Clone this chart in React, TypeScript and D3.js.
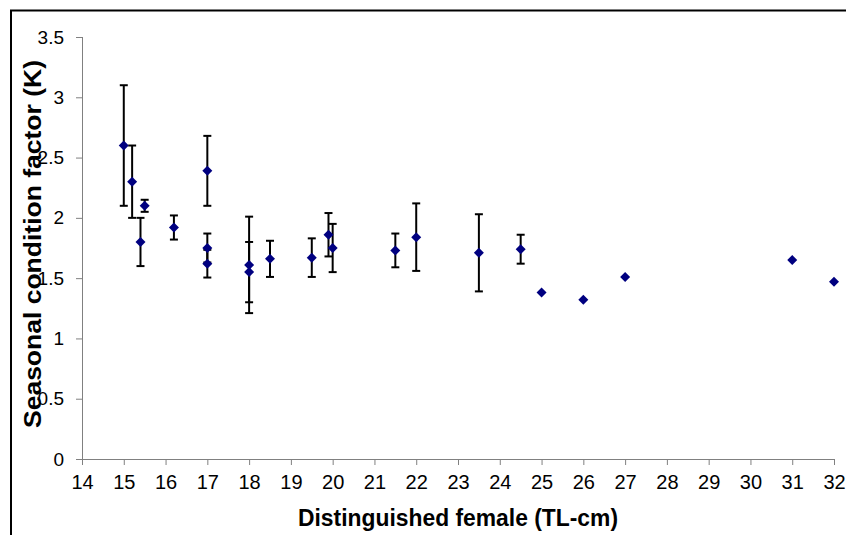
import React, { useEffect, useRef } from 'react';
import * as d3 from 'd3';

// total length (cm) of each measured group
const lengths = [15, 15.2, 15.4, 15.5, 16.2, 17, 17, 17, 18, 18, 18.5, 19.5, 19.9, 20, 21.5, 22, 23.5, 24.5, 25, 26, 27, 31, 32];
// mean condition factor K
const kValues = [2.6, 2.3, 1.8, 2.1, 1.92, 2.39, 1.75, 1.62, 1.61, 1.55, 1.66, 1.67, 1.86, 1.75, 1.73, 1.84, 1.71, 1.74, 1.38, 1.32, 1.51, 1.65, 1.47];
// +/- error (0 = single fish, no bar)
const kErrors = [0.5, 0.3, 0.2, 0.05, 0.1, 0.29, 0.12, 0.115, 0.4, 0.25, 0.15, 0.16, 0.18, 0.2, 0.14, 0.28, 0.32, 0.12, 0, 0, 0, 0, 0];

const xTicks = d3.range(14, 33, 1);
const yTicks = [0, 0.5, 1, 1.5, 2, 2.5, 3, 3.5];

export default function App() {
  const chartRef = useRef<SVGSVGElement>(null);

  useEffect(() => {
    const svg = d3.select(chartRef.current);
    svg.selectAll('*').remove();

    const containerWidth = 846;
    const containerHeight = 535;
    const margin = { top: 37, right: 12, bottom: 76, left: 82 };
    const axisColor = '#808080';
    const font = 'Arial, "Liberation Sans", Helvetica, sans-serif';

    const data = lengths.map((len, i) => ({ len, k: kValues[i], err: kErrors[i] }));

    const x = d3.scaleLinear()
      .domain([14, 32])
      .range([margin.left, containerWidth - margin.right]);

    const y = d3.scaleLinear()
      .domain([0, 3.5])
      .range([containerHeight - margin.bottom, margin.top]);

    svg.append('rect')
      .attr('width', containerWidth)
      .attr('height', containerHeight)
      .attr('fill', '#fff');

    // outer frame (top + left only, as in the source)
    svg.append('path')
      .attr('d', `M11,${containerHeight} L11,10.5 L${containerWidth},10.5`)
      .attr('fill', 'none')
      .attr('stroke', '#000')
      .attr('stroke-width', 2);

    // y axis
    const yAxis = svg.append('g')
      .attr('transform', `translate(${margin.left},0)`)
      .call(d3.axisLeft(y).tickValues(yTicks).tickSize(6).tickPadding(12)
        .tickFormat(d => String(d)));
    yAxis.select('.domain').attr('stroke', axisColor).attr('d', `M0.5,${y(3.5)}V${y(0)}`);
    yAxis.selectAll('.tick line').attr('stroke', axisColor);
    yAxis.selectAll('.tick text')
      .attr('fill', '#000')
      .attr('font-family', font)
      .attr('font-size', 19);

    // x axis
    const xAxis = svg.append('g')
      .attr('transform', `translate(0,${y(0)})`)
      .call(d3.axisBottom(x).tickValues(xTicks).tickSize(6).tickPadding(10)
        .tickFormat(d => String(d)));
    xAxis.select('.domain').attr('stroke', axisColor).attr('d', `M${x(14)},0.5H${x(32)}`);
    xAxis.selectAll('.tick line').attr('stroke', axisColor);
    xAxis.selectAll('.tick text')
      .attr('fill', '#000')
      .attr('font-family', font)
      .attr('font-size', 20);

    // error bars
    const withErr = data.filter(d => d.err > 0);
    const bars = svg.append('g').attr('stroke', '#000').attr('stroke-width', 2);
    bars.selectAll('line.v')
      .data(withErr)
      .join('line')
      .attr('class', 'v')
      .attr('x1', d => x(d.len))
      .attr('x2', d => x(d.len))
      .attr('y1', d => y(d.k - d.err))
      .attr('y2', d => y(d.k + d.err));
    bars.selectAll('line.cap-top')
      .data(withErr)
      .join('line')
      .attr('class', 'cap-top')
      .attr('x1', d => x(d.len) - 4)
      .attr('x2', d => x(d.len) + 4)
      .attr('y1', d => y(d.k + d.err))
      .attr('y2', d => y(d.k + d.err));
    bars.selectAll('line.cap-bot')
      .data(withErr)
      .join('line')
      .attr('class', 'cap-bot')
      .attr('x1', d => x(d.len) - 4)
      .attr('x2', d => x(d.len) + 4)
      .attr('y1', d => y(d.k - d.err))
      .attr('y2', d => y(d.k - d.err));

    // diamonds
    const diamond = d3.symbol().type(d3.symbolSquare).size(50);
    svg.append('g')
      .selectAll('path')
      .data(data)
      .join('path')
      .attr('d', diamond)
      .attr('transform', d => `translate(${x(d.len)},${y(d.k)}) rotate(45)`)
      .attr('fill', '#000080');

    // axis titles
    svg.append('text')
      .attr('x', (x(14) + x(32)) / 2)
      .attr('y', 526)
      .attr('text-anchor', 'middle')
      .attr('font-family', font)
      .attr('font-weight', 'bold')
      .attr('font-size', 23)
      .attr('textLength', 320)
      .attr('lengthAdjust', 'spacingAndGlyphs')
      .text('Distinguished female (TL-cm)');

    svg.append('text')
      .attr('transform', `translate(41,${(y(0) + y(3.5)) / 2 - 4}) rotate(-90)`)
      .attr('text-anchor', 'middle')
      .attr('font-family', font)
      .attr('font-weight', 'bold')
      .attr('font-size', 24)
      .attr('textLength', 368)
      .attr('lengthAdjust', 'spacingAndGlyphs')
      .text('Seasonal condition factor (K)');
  }, []);

  return (
    <div style={{ position: 'absolute', left: 0, top: 0 }}>
      <svg width={846} height={535} ref={chartRef} style={{ display: 'block' }} />
    </div>
  );
}
